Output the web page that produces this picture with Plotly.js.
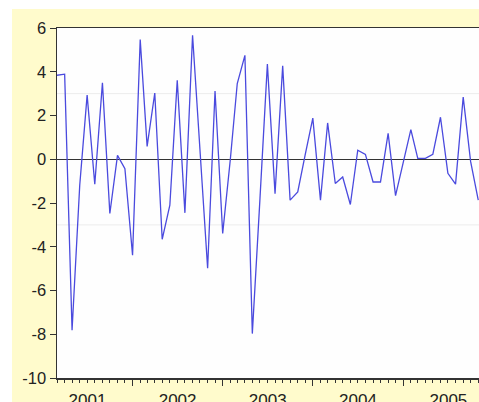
<!DOCTYPE html>
<html>
<head>
<meta charset="utf-8">
<script src="https://cdn.plot.ly/plotly-3.0.1.min.js"></script>
<style>
  html, body { margin: 0; padding: 0; background: #ffffff; overflow: hidden; width: 479px; height: 402px; }
  #chart { position: absolute; left: 12px; top: 9px; width: 467px; height: 393px; }
</style>
</head>
<body>
<div id="chart"></div>
<script>
const months = [
  '2001-03','2001-04','2001-05','2001-06','2001-07','2001-08','2001-09','2001-10','2001-11','2001-12',
  '2002-01','2002-02','2002-03','2002-04','2002-05','2002-06','2002-07','2002-08','2002-09','2002-10','2002-11','2002-12',
  '2003-01','2003-02','2003-03','2003-04','2003-05','2003-06','2003-07','2003-08','2003-09','2003-10','2003-11','2003-12',
  '2004-01','2004-02','2004-03','2004-04','2004-05','2004-06','2004-07','2004-08','2004-09','2004-10','2004-11','2004-12',
  '2005-01','2005-02','2005-03','2005-04','2005-05','2005-06','2005-07','2005-08','2005-09','2005-10','2005-11'
];
const values = [
  3.84, 3.89, -7.82, -1.2, 2.93, -1.14, 3.5, -2.48, 0.18, -0.43,
  -4.39, 5.47, 0.59, 3.03, -3.66, -2.1, 3.61, -2.45, 5.67, 0.35, -4.98, 3.12,
  -3.39, 0.0, 3.46, 4.75, -7.97, -1.8, 4.35, -1.57, 4.27, -1.87, -1.49, 0.2,
  1.88, -1.87, 1.66, -1.11, -0.81, -2.07, 0.41, 0.22, -1.04, -1.04, 1.18, -1.66,
  -0.16, 1.35, 0.04, 0.04, 0.22, 1.92, -0.64, -1.14, 2.84, -0.1, -1.87
];
const yTicks = [-10, -8, -6, -4, -2, 0, 2, 4, 6];
const bandLevels = [3, -3];

const trace = {
  x: months.map(m => m + '-01'),
  y: values,
  type: 'scatter',
  mode: 'lines',
  line: { color: '#4a4ade', width: 1.3 },
  hoverinfo: 'x+y'
};

const shapes = bandLevels.map(v => ({
  type: 'line', xref: 'paper', x0: 0, x1: 1, yref: 'y', y0: v, y1: v,
  line: { color: '#ececec', width: 1 }, layer: 'below'
}));

const layout = {
  width: 467, height: 393,
  margin: { l: 45, r: 0, t: 19, b: 24 },
  paper_bgcolor: '#fffbcc',
  plot_bgcolor: '#fefefe',
  showlegend: false,
  shapes: shapes,
  font: { family: 'Arial, Liberation Sans, sans-serif', color: '#222222' },
  xaxis: {
    type: 'date',
    range: ['2001-03-01', '2005-11-04'],
    tickformat: '%Y',
    dtick: 'M12',
    tick0: '2001-01-01',
    ticklabelmode: 'period',
    ticks: 'outside',
    ticklen: 6,
    tickwidth: 1,
    tickcolor: '#333333',
    minor: { dtick: 'M1', ticks: 'outside', ticklen: 3, tickwidth: 1, tickcolor: '#333333' },
    showline: true, linecolor: '#333333', linewidth: 1.5,
    mirror: true,
    showgrid: false,
    zeroline: false,
    tickfont: { size: 17, color: '#222222' }
  },
  yaxis: {
    range: [-10, 6],
    tickvals: yTicks,
    ticktext: yTicks.map(String),
    ticks: 'outside',
    ticklen: 6,
    tickwidth: 1,
    tickcolor: '#333333',
    showline: true, linecolor: '#333333', linewidth: 1.5,
    mirror: false,
    showgrid: false,
    zeroline: true, zerolinecolor: '#333333', zerolinewidth: 1,
    tickfont: { size: 16.5, color: '#222222' }
  }
};

Plotly.newPlot('chart', [trace], layout, { displayModeBar: false, staticPlot: true });
</script>
</body>
</html>
